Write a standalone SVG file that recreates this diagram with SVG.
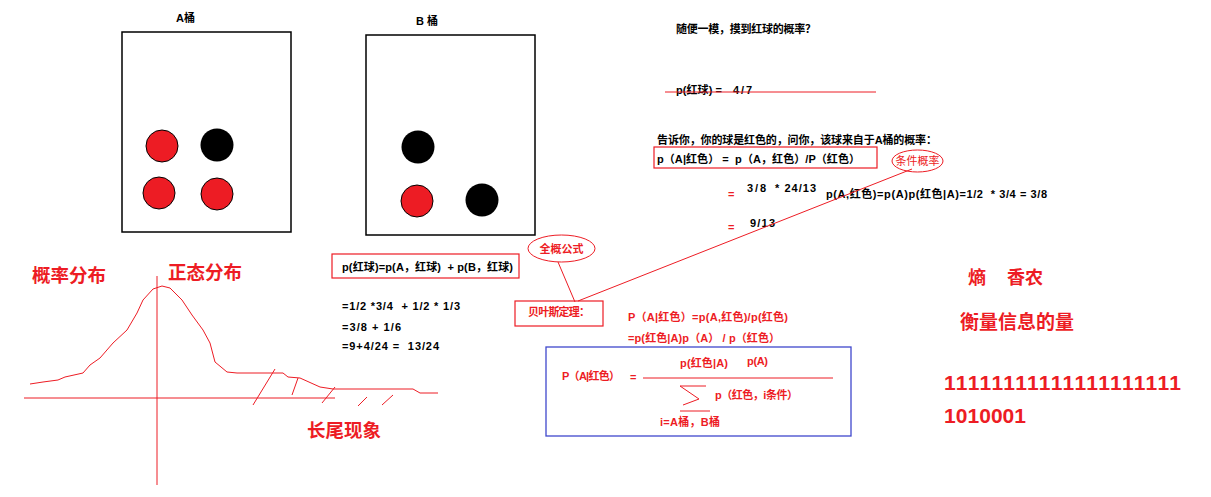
<svg xmlns="http://www.w3.org/2000/svg" width="1211" height="497" viewBox="0 0 1211 497">
<style>
.t{font-family:"Liberation Sans","Noto Sans CJK SC",sans-serif;font-size:11px;font-weight:bold;fill:#000}
.r{fill:#ED1C24}
.big{font-family:"Noto Sans CJK SC","Liberation Sans",sans-serif;font-weight:bold;fill:#ED1C24}
.num{font-family:"Liberation Sans",sans-serif;font-weight:bold;font-size:21px;fill:#ED1C24}
.box{fill:none;stroke:#000;stroke-width:1.5}
.rbox{fill:none;stroke:#ED1C24;stroke-width:1.2}
.rl{fill:none;stroke:#ED1C24;stroke-width:1}
.rc{fill:#ED1C24;stroke:#000;stroke-width:1}
.bc{fill:#000}
</style>
<rect width="1211" height="497" fill="#fff"/>

<g id="bucketA">
<rect class="box" x="122" y="32" width="169" height="200"/>
<text class="t" x="176" y="22">A桶</text>
<circle class="rc" cx="162" cy="146" r="16"/>
<circle class="bc" cx="217" cy="145" r="16.5"/>
<circle class="rc" cx="159" cy="193" r="16"/>
<circle class="rc" cx="217" cy="194" r="16"/>
</g>

<g id="bucketB">
<rect class="box" x="366" y="35" width="169" height="200"/>
<text class="t" x="416" y="25" xml:space="preserve">B 桶</text>
<circle class="bc" cx="418" cy="147" r="16.5"/>
<circle class="rc" cx="417" cy="201" r="16"/>
<circle class="bc" cx="482" cy="200" r="16.5"/>
</g>

<g id="question">
<text class="t" x="676" y="33" textLength="140">随便一模，摸到红球的概率？</text>
<text class="t" x="676" y="94" textLength="46">p(红球) =</text>
<text class="t" x="733" y="94" textLength="19">4/7</text>
<line class="rl" x1="665" y1="92" x2="876" y2="92" stroke-width="1.3"/>
</g>

<g id="conditional">
<text class="t" x="657" y="144" textLength="280">告诉你，你的球是红色的，问你，该球来自于A桶的概率：</text>
<rect class="rbox" x="654" y="147" width="223" height="21"/>
<text class="t" x="657" y="163" xml:space="preserve" textLength="203">p（A|红色） =  p（A，红色）/P（红色）</text>
<text class="t r" x="728" y="198">=</text>
<text class="t" x="747" y="192" textLength="19">3/8</text>
<text class="t" x="775" y="192" textLength="41">* 24/13</text>
<text class="t" x="826" y="198" xml:space="preserve" textLength="221">p(A,红色)=p(A)p(红色|A)=1/2  * 3/4 = 3/8</text>
<text class="t r" x="728" y="231">=</text>
<text class="t" x="750" y="227" textLength="25">9/13</text>
</g>

<g id="tiaojian">
<ellipse class="rl" cx="917.5" cy="161" rx="25.5" ry="11"/>
<text x="917.5" y="165" text-anchor="middle" font-family="Noto Sans CJK SC,sans-serif" font-size="11" fill="#ED1C24">条件概率</text>
</g>

<g id="total">
<rect class="rbox" x="332" y="254" width="187" height="24"/>
<text class="t" x="342" y="271" xml:space="preserve" textLength="171">p(红球)=p(A，红球)  + p(B，红球)</text>
<text class="t" x="342" y="310" xml:space="preserve" textLength="118">=1/2 *3/4  + 1/2 * 1/3</text>
<text class="t" x="342" y="331" textLength="59">=3/8 + 1/6</text>
<text class="t" x="342" y="350" xml:space="preserve" textLength="97">=9+4/24 =  13/24</text>
</g>

<g id="quangai">
<ellipse class="rl" cx="561.5" cy="248.5" rx="33.5" ry="13.5"/>
<text x="561.5" y="253" text-anchor="middle" font-family="Noto Sans CJK SC,sans-serif" font-size="11" font-weight="bold" fill="#ED1C24">全概公式</text>
</g>

<g id="bayes">
<rect class="rbox" x="515" y="301" width="88" height="25"/>
<text class="t r" x="528" y="316" textLength="62">贝叶斯定理：</text>
<text class="t r" x="628" y="321" textLength="160">P（A|红色）=p(A,红色)/p(红色)</text>
<text class="t r" x="628" y="342" xml:space="preserve" textLength="152">=p(红色|A)p（A） / p（红色）</text>
</g>

<g id="formulaBox">
<rect x="546" y="347" width="305" height="89" fill="none" stroke="#3F48CC" stroke-width="1.3"/>
<text class="t r" x="562" y="380" textLength="58">P（A|红色）</text>
<text class="t r" x="630" y="381">=</text>
<line class="rl" x1="643" y1="378" x2="833" y2="378"/>
<text class="t r" x="680" y="367" textLength="48">p(红色|A)</text>
<text class="t r" x="747" y="365" textLength="21">p(A)</text>
<polyline class="rl" points="706,386 680,386 699,399 683,405"/>
<line class="rl" x1="680" y1="411" x2="710" y2="411"/>
<text class="t r" x="715" y="399" textLength="83">p（红色，i条件）</text>
<text class="t r" x="660" y="426" textLength="60">i=A桶，B桶</text>
</g>

<g id="entropy">
<text class="big" x="968" y="284" font-size="18">熵</text>
<text class="big" x="1007" y="284" font-size="18">香农</text>
<text class="big" x="960" y="329" font-size="19">衡量信息的量</text>
<text class="num" x="944" y="390" textLength="237">11111111111111111111</text>
<text class="num" x="944" y="423" textLength="82">1010001</text>
</g>

<g id="distribution">
<text class="big" x="32" y="282" font-size="18.5">概率分布</text>
<text class="big" x="168" y="279" font-size="18.5">正态分布</text>
<text class="big" x="307" y="437" font-size="18.5">长尾现象</text>
<line class="rl" x1="24" y1="398" x2="335" y2="398"/>
<line class="rl" x1="157" y1="276" x2="157" y2="485"/>
<polyline class="rl" points="30,384 43,382 58,380 65,377 83,373 90,365 100,358 113,343 127,330 137,313 143,300 153,289 162,286 170,288 182,300 192,315 203,330 210,343 215,362 227,372 237,373 283,373 288,377 300,378 320,387 333,389 413,389 420,393 438,393"/>
<line class="rl" x1="253" y1="405" x2="275" y2="369"/>
<line class="rl" x1="292" y1="395" x2="298" y2="378"/>
<line class="rl" x1="322" y1="403" x2="335" y2="387"/>
<line class="rl" x1="358" y1="406" x2="367" y2="397"/>
<line class="rl" x1="382" y1="405" x2="393" y2="395"/>
</g>

<g id="connectors">
<line class="rl" x1="912" y1="169" x2="578" y2="301"/>
<line class="rl" x1="558" y1="262" x2="575" y2="302"/>
</g>
</svg>
